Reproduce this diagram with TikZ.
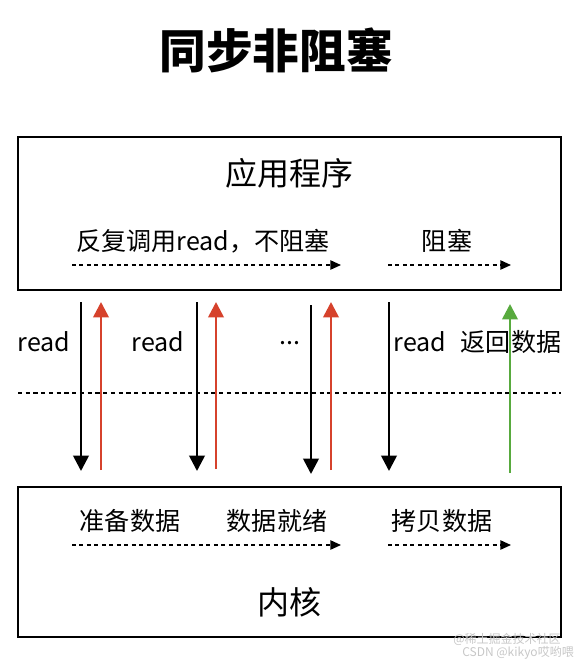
\documentclass[tikz,border=0pt]{standalone}
\usepackage{fontspec}
\setmainfont{Noto Sans CJK SC}
\usepackage{tikz}
\usetikzlibrary{
    calc,
    positioning,
    arrows.meta
}
\definecolor{callred}{RGB}{214,66,44}
\definecolor{retgreen}{RGB}{88,170,62}

\begin{document}
\begin{tikzpicture}[x=0.75pt,y=-0.75pt]
                  \useasboundingbox (0,0) rectangle (578,664);

                  % Define styles:
                  \tikzset{
                        box/.style={draw, line width=1.6pt},
                        lbl/.style={font=\fontsize{18.8}{20}\selectfont, inner sep=0pt},
                        big/.style={font=\fontsize{24}{26}\selectfont, inner sep=0pt},
                        flow/.style={-{Triangle[width=7pt,length=8pt]}, line width=1.1pt, dash pattern=on 3pt off 2.6pt},
                        call/.style={-{Triangle[width=11.5pt,length=11.5pt]}, line width=2pt, black},
                        answer/.style={-{Triangle[width=11.5pt,length=11.5pt]}, line width=2pt, callred},
                        result/.style={-{Triangle[width=11.5pt,length=11.5pt]}, line width=2pt, retgreen}
                  };

                  % Title
                  \node[font=\fontsize{35}{38}\selectfont\bfseries, inner sep=0pt] (title) at (276,50) {同步非阻塞};

                  % User space and kernel as boxes
                  \draw[box] (18,137) rectangle (561,290);
                  \draw[box] (18,487) rectangle (561,637);
                  \node[big] (app) at (289,173) {应用程序};
                  \node[big] (kernel) at (289,602) {内核};

                  % Border between the two sides
                  \coordinate (sepL) at (18,393);
                  \coordinate (sepR) at (561,393);
                  \draw[line width=1.1pt, dash pattern=on 3.2pt off 2.6pt] (sepL) -- (sepR);

                  % Phases in the application
                  \node[lbl] (poll) at (203,241) {反复调用read，不阻塞};
                  \node[lbl] (block) at (447,241) {阻塞};
                  \coordinate (pollA) at (72,265);
                  \coordinate (pollB) at (341,265);
                  \coordinate (blockA) at (388,265);
                  \coordinate (blockB) at (511,265);
                  \draw[flow] (pollA) -- (pollB);
                  \draw[flow] (blockA) -- (blockB);

                  % Phases in the kernel
                  \node[lbl] (prep) at (130,521) {准备数据};
                  \node[lbl] (ready) at (277,521) {数据就绪};
                  \node[lbl] (copy) at (442,521) {拷贝数据};
                  \coordinate (prepA) at (72,545);
                  \coordinate (prepB) at (341,545);
                  \coordinate (copyA) at (388,545);
                  \coordinate (copyB) at (511,545);
                  \draw[flow] (prepA) -- (prepB);
                  \draw[flow] (copyA) -- (copyB);

                  % Calls going down, answers coming up
                  \coordinate (c1t) at (81,302);  \coordinate (c1b) at (81,471);
                  \coordinate (r1b) at (101,470); \coordinate (r1t) at (101,302);
                  \coordinate (c2t) at (197,302); \coordinate (c2b) at (197,471);
                  \coordinate (r2b) at (216,469); \coordinate (r2t) at (216,302);
                  \coordinate (c3t) at (311,305); \coordinate (c3b) at (311,474);
                  \coordinate (r3b) at (331,470); \coordinate (r3t) at (331,302);
                  \coordinate (c4t) at (389,302); \coordinate (c4b) at (389,471);
                  \coordinate (g1b) at (510,473); \coordinate (g1t) at (510,304);

                  \draw[call] (c1t) -- (c1b);
                  \draw[answer] (r1b) -- (r1t);
                  \draw[call] (c2t) -- (c2b);
                  \draw[answer] (r2b) -- (r2t);
                  \draw[call] (c3t) -- (c3b);
                  \draw[answer] (r3b) -- (r3t);
                  \draw[call] (c4t) -- (c4b);
                  \draw[result] (g1b) -- (g1t);

                  % Labels beside the arrows
                  \node[lbl] (read1) at (44,342) {read};
                  \node[lbl] (read2) at (158,342) {read};
                  \node[lbl] (more) at (290,343) {...};
                  \node[lbl] (read4) at (420,342) {read};
                  \node[lbl] (back) at (511,342) {返回数据};

                  % Watermark
                  \node[font=\fontsize{9}{10}\selectfont, text=black!22, inner sep=0pt] (mark1) at (507,639) {@稀土掘金技术社区};
                  \node[font=\fontsize{9}{10}\selectfont, text=black!22, inner sep=0pt] (mark2) at (518,653) {CSDN @kikyo哎哟喂};
            \end{tikzpicture}
\end{document}
